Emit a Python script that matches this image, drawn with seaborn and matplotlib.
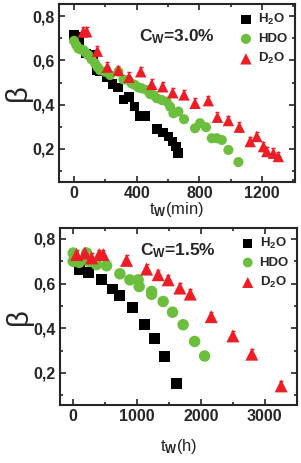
import matplotlib
matplotlib.use('Agg')
import matplotlib.pyplot as plt
import seaborn as sns
from matplotlib.ticker import FuncFormatter, MultipleLocator

# panel 1: Cw = 3.0 %, time in minutes
h2o_t1 = [0, 21, 34, 77, 106, 123, 145, 166, 208, 245, 279, 315, 351, 387, 417, 453,
          528, 566, 602, 628, 649, 662]
h2o_b1 = [0.714, 0.706, 0.684, 0.632, 0.624, 0.62, 0.556, 0.55, 0.526, 0.493, 0.478,
          0.424, 0.434, 0.391, 0.349, 0.349, 0.289, 0.274, 0.256, 0.233, 0.21, 0.18]
hdo_t1 = [0, 14, 28, 44, 60, 75, 91, 112, 134, 150, 166, 198, 230, 283, 315, 347, 368,
          389, 411, 432, 464, 485, 506, 528, 560, 591, 613, 634, 666, 702, 772, 804, 842,
          879, 911, 943, 985, 1049]
hdo_b1 = [0.689, 0.67, 0.654, 0.65, 0.647, 0.635, 0.624, 0.605, 0.587, 0.57, 0.556,
          0.549, 0.534, 0.549, 0.514, 0.511, 0.496, 0.489, 0.478, 0.474, 0.466, 0.448,
          0.444, 0.429, 0.421, 0.414, 0.391, 0.361, 0.369, 0.334, 0.293, 0.316, 0.298,
          0.248, 0.248, 0.24, 0.195, 0.14]
d2o_t1 = [59, 81, 149, 213, 283, 351, 426, 496, 566, 630, 702, 772, 857, 915, 985, 1055,
          1124, 1166, 1209, 1230, 1272, 1304]
d2o_b1 = [0.729, 0.73, 0.642, 0.57, 0.555, 0.524, 0.549, 0.492, 0.481, 0.454, 0.444,
          0.406, 0.418, 0.343, 0.328, 0.298, 0.233, 0.256, 0.21, 0.188, 0.18, 0.165]

# panel 2: Cw = 1.5 %, time in hours
h2o_t2 = [105, 235, 444, 616, 731, 929, 1122, 1268, 1424, 1614]
h2o_b2 = [0.665, 0.648, 0.62, 0.576, 0.546, 0.493, 0.416, 0.356, 0.275, 0.152]
hdo_t2 = [0, 0, 94, 210, 250, 366, 523, 731, 887, 1017, 1033, 1227, 1227, 1408, 1555,
          1721, 1901, 2057]
hdo_b2 = [0.737, 0.70, 0.695, 0.737, 0.70, 0.685, 0.68, 0.644, 0.617, 0.617, 0.587,
          0.565, 0.552, 0.52, 0.472, 0.416, 0.341, 0.276]
d2o_t2 = [53, 183, 288, 407, 470, 836, 1149, 1330, 1487, 1670, 1833, 2161, 2500, 2797,
          3255]
d2o_b2 = [0.73, 0.737, 0.715, 0.73, 0.73, 0.704, 0.665, 0.64, 0.617, 0.58, 0.553,
          0.452, 0.366, 0.284, 0.142]

green = '#6cbf3c'
red = '#ee1c24'

sns.set_style('ticks')
plt.rcParams['font.family'] = ['Liberation Sans', 'DejaVu Sans']
plt.rcParams['font.weight'] = 'bold'
plt.rcParams['mathtext.fontset'] = 'custom'
plt.rcParams['mathtext.rm'] = 'Liberation Sans:bold'
plt.rcParams['mathtext.it'] = 'Liberation Sans:bold'
plt.rcParams['mathtext.bf'] = 'Liberation Sans:bold'

fig = plt.figure(figsize=(3.01, 4.63), dpi=100)
ax1 = fig.add_axes([0.196, 0.607, 0.784, 0.384])
ax2 = fig.add_axes([0.199, 0.125, 0.787, 0.383])

comma = FuncFormatter(lambda v, p: f'{v:.1f}'.replace('.', ','))
sizes = {'s': 1.0, 'o': 1.1, '^': 1.4}


def draw(ax, series, ms):
    for t, b, color, marker, label in series:
        if color == red:
            ax.errorbar(t, [v + 0.008 for v in b], yerr=0.014, fmt='none', ecolor=color,
                        elinewidth=0.8, capsize=1.5, zorder=2)
        sns.scatterplot(x=t, y=b, ax=ax, color=color, marker=marker,
                        s=ms * sizes[marker], edgecolor='none', label=label, zorder=3)


draw(ax1, [(h2o_t1, h2o_b1, 'black', 's', 'H$_2$O'),
           (hdo_t1, hdo_b1, green, 'o', 'HDO'),
           (d2o_t1, d2o_b1, red, '^', 'D$_2$O')], 48)
draw(ax2, [(h2o_t2, h2o_b2, 'black', 's', 'H$_2$O'),
           (hdo_t2, hdo_b2, green, 'o', 'HDO'),
           (d2o_t2, d2o_b2, red, '^', 'D$_2$O')], 62)

ax1.set_xlim(-96, 1410)
ax1.set_ylim(0.05, 0.855)
ax1.xaxis.set_major_locator(MultipleLocator(400))
ax1.xaxis.set_minor_locator(MultipleLocator(200))
ax2.set_xlim(-208, 3500)
ax2.set_ylim(0.056, 0.85)
ax2.xaxis.set_major_locator(MultipleLocator(1000))
ax2.xaxis.set_minor_locator(MultipleLocator(500))

for ax, mscale in ((ax1, 1.0), (ax2, 0.85)):
    ax.yaxis.set_major_locator(MultipleLocator(0.2))
    ax.yaxis.set_minor_locator(MultipleLocator(0.1))
    ax.yaxis.set_major_formatter(comma)
    ax.tick_params(which='both', direction='in', top=True, right=True, width=1.2,
                   labelsize=11.5, pad=3)
    ax.tick_params(which='major', length=4)
    ax.tick_params(which='minor', length=2.5)
    for sp in ax.spines.values():
        sp.set_linewidth(1.5)
    ax.set_ylabel('β', fontsize=21, fontweight='normal', labelpad=0)
    ax.legend(loc='upper right', frameon=False, fontsize=9.5, handletextpad=0.4,
              borderaxespad=0.2, labelspacing=0.45, markerscale=mscale,
              handlelength=1.0)

ax1.set_xlabel('t$_W$(min)', fontsize=12, labelpad=-1)
ax2.set_xlabel('t$_W$(h)', fontsize=12, labelpad=9)
ax1.text(0.5, 0.82, 'C$_W$=3.0%', transform=ax1.transAxes, fontsize=12.5,
         ha='center', va='center')
ax2.text(0.5, 0.87, 'C$_W$=1.5%', transform=ax2.transAxes, fontsize=12.5,
         ha='center', va='center')

fig.savefig('out.png', dpi=100)
